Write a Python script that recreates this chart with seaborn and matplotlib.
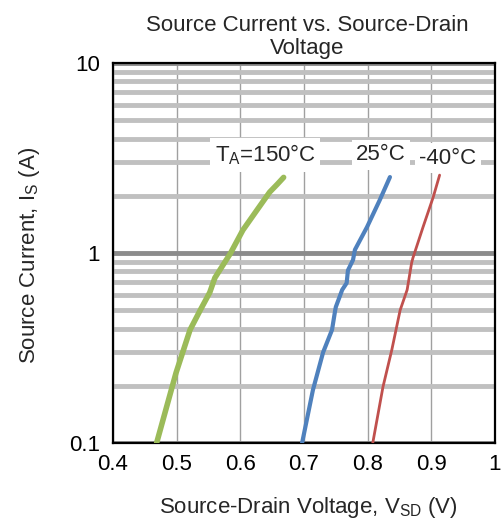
import numpy as np
import pandas as pd
import seaborn as sns
import matplotlib
matplotlib.use("Agg")
import matplotlib.pyplot as plt
from matplotlib.ticker import LogLocator, FixedLocator, NullFormatter

# Data
vsd_150 = [0.4685, 0.499, 0.521, 0.537, 0.552, 0.560, 0.584, 0.604, 0.626, 0.646, 0.658, 0.668]
is_150 = [0.10, 0.234, 0.394, 0.50, 0.62, 0.74, 0.99, 1.32, 1.68, 2.09, 2.30, 2.50]

vsd_25 = [0.697, 0.714, 0.730, 0.744, 0.749, 0.750, 0.760, 0.767, 0.769, 0.777, 0.780, 0.799, 0.819, 0.835]
is_25 = [0.10, 0.19, 0.30, 0.394, 0.50, 0.52, 0.64, 0.695, 0.81, 0.92, 1.04, 1.37, 1.90, 2.51]

vsd_m40 = [0.808, 0.824, 0.838, 0.851, 0.862, 0.869, 0.871, 0.887, 0.903, 0.913]
is_m40 = [0.10, 0.197, 0.31, 0.50, 0.64, 0.886, 0.94, 1.37, 1.97, 2.57]

series_names = ["150", "25", "-40"]
colors = ["#9BBB59", "#4F81BD", "#C0504D"]
widths = [4.0, 3.0, 2.0]
x_ticks = [0.4, 0.5, 0.6, 0.7, 0.8, 0.9, 1.0]
x_tick_labels = ["0.4", "0.5", "0.6", "0.7", "0.8", "0.9", "1"]
y_ticks = [0.1, 1, 10]
y_tick_labels = ["0.1", "1", "10"]

df = pd.concat([
    pd.DataFrame({"V": vsd_150, "I": is_150, "T": "150"}),
    pd.DataFrame({"V": vsd_25, "I": is_25, "T": "25"}),
    pd.DataFrame({"V": vsd_m40, "I": is_m40, "T": "-40"}),
], ignore_index=True)

sns.set_style("white")
plt.rcParams["font.family"] = ["Liberation Sans", "DejaVu Sans"]
FS = 16

W, H = 502, 525
fig = plt.figure(figsize=(W/100, H/100), dpi=100)
ax = fig.add_axes([113/W, 1-443/H, (495-113)/W, (443-63)/H])

ax.set_yscale("log")
ax.set_xlim(0.4, 1.0)
ax.set_ylim(0.1, 10)

# gridlines
ax.yaxis.set_minor_locator(LogLocator(base=10, subs=np.arange(2, 10)))
ax.yaxis.set_minor_formatter(NullFormatter())
ax.grid(which="minor", axis="y", color="#c0c0c0", linewidth=3.5, zorder=0)
ax.grid(which="major", axis="y", color="#8c8c8c", linewidth=3.5, zorder=0)
ax.grid(which="major", axis="x", color="#a0a0a0", linewidth=1.0, zorder=0)
ax.set_axisbelow(True)

for name, col, lw in zip(series_names, colors, widths):
    sub = df[df["T"] == name]
    sns.lineplot(data=sub, x="V", y="I", sort=False, estimator=None,
                 color=col, linewidth=lw, ax=ax, legend=False,
                 solid_capstyle="round", zorder=3)

ax.xaxis.set_major_locator(FixedLocator(x_ticks))
ax.set_xticklabels(x_tick_labels)
ax.yaxis.set_major_locator(FixedLocator(y_ticks))
ax.set_yticklabels(y_tick_labels)
ax.tick_params(axis="both", which="both", length=0, labelsize=FS, colors="black")
ax.tick_params(axis="x", pad=8)
ax.tick_params(axis="y", pad=9.5)

for s in ax.spines.values():
    s.set_color("black")
    s.set_linewidth(1.6)
    s.set_visible(True)

ax.set_xlabel("")
ax.set_ylabel("")
fig.text(308/W, 1-508/H, "Source-Drain Voltage, V$_{\\mathregular{SD}}$ (V)",
         ha="center", va="center", fontsize=FS)
fig.text(30/W, 1-255/H, "Source Current, I$_{\\mathregular{S}}$ (A)",
         ha="center", va="center", fontsize=FS, rotation=90)

fig.text(307/W, 1-37/H, "Source Current vs. Source-Drain\nVoltage", ha="center",
         va="center", fontsize=FS, linespacing=1.15)

bbox = dict(facecolor="white", edgecolor="none", pad=3)
ax.text(0.639, 3.28, "T$_{\\mathregular{A}}$=150°C", ha="center", va="center",
        fontsize=FS, bbox=bbox, zorder=4)
ax.text(0.821, 3.28, "25°C", ha="center", va="center", fontsize=FS, bbox=bbox, zorder=4)
ax.text(0.926, 3.16, "-40°C", ha="center", va="center", fontsize=FS, bbox=bbox, zorder=4)

fig.savefig("out.png", dpi=100)
